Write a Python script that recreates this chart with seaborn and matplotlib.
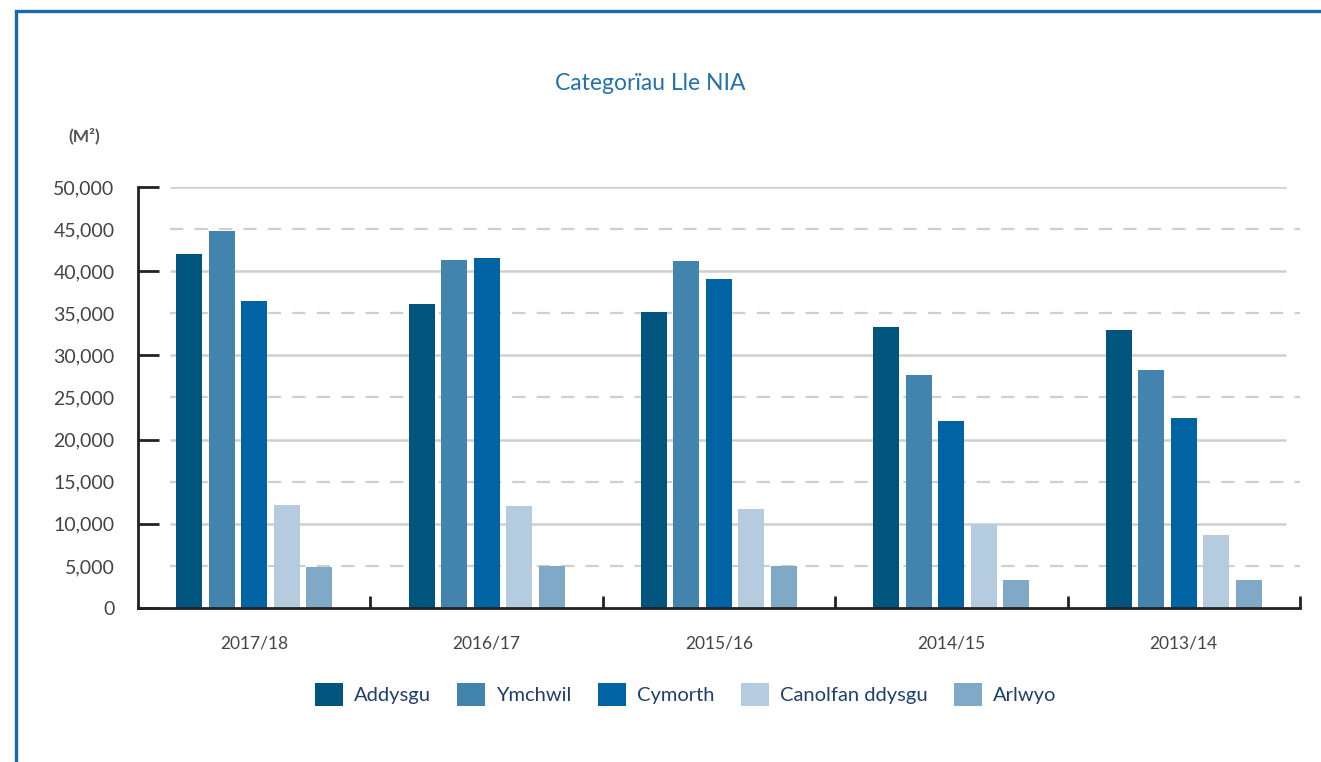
import pandas as pd
import seaborn as sns
import matplotlib.pyplot as plt
from matplotlib.patches import Rectangle, Patch
from matplotlib.ticker import MultipleLocator, FuncFormatter

years = ["2017/18", "2016/17", "2015/16", "2014/15", "2013/14"]
categories = ["Addysgu", "Ymchwil", "Cymorth", "Canolfan ddysgu", "Arlwyo"]
addysgu = [42000, 36100, 35200, 33400, 33000]
ymchwil = [44800, 41300, 41200, 27700, 28300]
cymorth = [36500, 41600, 39100, 22200, 22600]
canolfan = [12200, 12100, 11800, 10000, 8700]
arlwyo = [4900, 5000, 5000, 3300, 3300]
colors = ["#00557F", "#4284AE", "#0064A4", "#B5CCE0", "#80A9C8"]

values = [addysgu, ymchwil, cymorth, canolfan, arlwyo]
df = pd.DataFrame([
    {"year": y, "category": c, "value": v[i]}
    for c, v in zip(categories, values)
    for i, y in enumerate(years)
])

sns.set_theme(style="white")
plt.rcParams['font.family'] = ['Lato', 'DejaVu Sans']

fig = plt.figure(figsize=(13.21, 7.62), dpi=100)
ax = fig.add_axes([0.1045, 0.2021, 0.8795, 0.5525])

sns.barplot(data=df, x="year", y="value", hue="category", hue_order=categories,
            palette=colors, width=0.7, gap=0.2, saturation=1, legend=False,
            ax=ax, edgecolor="none")

ax.set_xlim(-0.5, 4.5)
ax.set_ylim(0, 50000)
ax.set_xlabel("")
ax.set_ylabel("")

# gridlines: solid every 10k, dashed in between
for v in range(5000, 50001, 5000):
    if v % 10000 == 0:
        ax.hlines(v, -0.362, 4.44, color="#cfcfcf", lw=1.8, zorder=0)
    else:
        ax.hlines(v, -0.362, 4.5, color="#cfcfcf", lw=1.6, ls=(0, (6, 5)), zorder=0)

for s in ["top", "right"]:
    ax.spines[s].set_visible(False)
for s in ["left", "bottom"]:
    ax.spines[s].set_color("#222222")
    ax.spines[s].set_linewidth(2)

ax.yaxis.set_major_locator(MultipleLocator(5000))
ax.yaxis.set_major_formatter(FuncFormatter(lambda x, p: f"{int(x):,}"))
ax.yaxis.set_minor_locator(MultipleLocator(10000))
ax.yaxis.remove_overlapping_locs = False
ax.tick_params(axis="y", which="major", length=0, pad=17, labelsize=14, labelcolor="#444444")
ax.tick_params(axis="y", which="minor", direction="in", length=15, width=2, color="#222222", left=True)

ax.set_xticks([0.5, 1.5, 2.5, 3.5, 4.5], minor=True)
ax.tick_params(axis="x", which="major", length=0, pad=20, labelsize=12.5, labelcolor="#444444")
ax.tick_params(axis="x", which="minor", direction="in", length=9, width=2, color="#222222", bottom=True)

fig.text(0.492, 0.891, "Categorïau Lle NIA", ha="center", va="center",
         fontsize=16.5, color="#2272AE")
fig.text(0.064, 0.822, "(M²)", ha="center", va="center",
         fontsize=12.5, color="#555555", fontweight="bold")

handles = [Patch(facecolor=c, edgecolor="none") for c in colors]
fig.legend(handles, categories, loc="center", bbox_to_anchor=(0.519, 0.089), ncol=5,
           frameon=False, fontsize=14.5, handlelength=1.4, handleheight=1.4,
           handletextpad=0.55, columnspacing=1.3, labelcolor="#1F3F6A")

fig.patches.append(Rectangle((16 / 1321, -0.1), 1.2, 1.1 - 11 / 762,
                             transform=fig.transFigure, fill=False,
                             edgecolor="#1A6AAB", lw=2.4))

fig.savefig("out.png", dpi=100)
